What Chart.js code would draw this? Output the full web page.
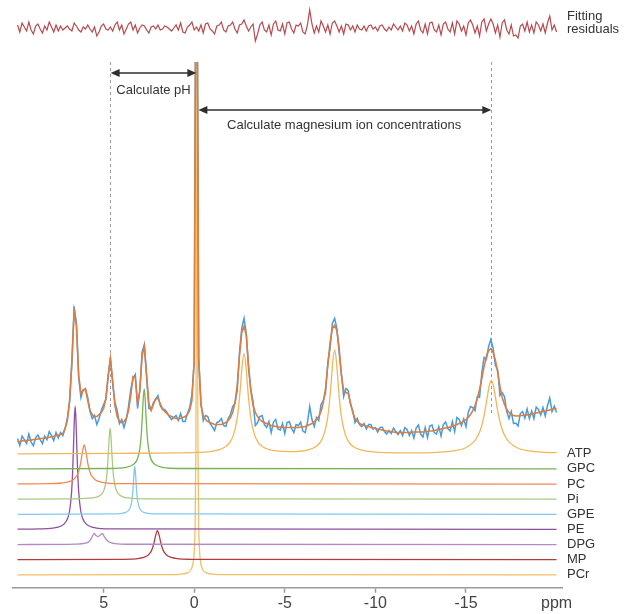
<!DOCTYPE html>
<html>
<head>
<meta charset="utf-8">
<script src="https://cdn.jsdelivr.net/npm/chart.js@4.4.1/dist/chart.umd.min.js"></script>
<style>
  html, body { margin: 0; padding: 0; background: #fff; }
  .layer { position: absolute; left: 0; top: 0; }
</style>
</head>
<body>
<canvas id="main" class="layer" width="632" height="614"></canvas>
<canvas id="resid" class="layer" width="632" height="56"></canvas>
<script>
// sampling of the measured spectrum
const shiftStart = 9.75; // ppm of first sample
const shiftStep = 0.125; // ppm between samples

// fitted spectrum (a.u.), one value per sample
const fitted = [
  6, 6, 6.5, 7, 7, 7.5, 7.5, 8, 8, 8.5,
  9, 9, 9.5, 10, 10, 11, 11, 12, 12.5, 13,
  14, 19, 27, 47, 87, 136, 122, 72, 54, 57,
  59, 47, 37, 33, 31, 31, 33, 35, 39, 49,
  72, 89, 67, 42, 31, 26, 25, 26, 29, 37,
  52, 71, 70, 44, 57, 92, 101, 72, 44, 37,
  43, 49, 49, 44, 39, 36, 34, 32, 31, 30,
  29, 29, 29, 30, 31, 33, 37, 47, 87, 640,
  90, 42, 32, 28, 26, 25, 24, 23, 23, 23,
  23, 24, 25, 27, 30, 35, 45, 62, 92, 115,
  121, 112, 82, 57, 42, 35, 31, 28, 26, 25,
  24, 23, 22, 21.5, 21, 20.5, 20.5, 20, 20, 20,
  20, 20, 20, 20, 20, 20.5, 20.5, 21, 22, 23,
  24, 26, 28, 31, 36, 45, 59, 82, 105, 119,
  122, 117, 99, 72, 57, 55, 54, 45, 35, 29,
  26, 24, 23, 22, 21.5, 21, 20, 19.5, 19, 18.5,
  18, 17.5, 17, 16.5, 16, 16, 15.5, 15, 15, 15,
  15, 15, 15, 15, 15, 15.5, 15.5, 15.5, 15.5, 15.5,
  16, 16, 16.5, 16.5, 17, 17.5, 18, 18.5, 19, 19.5,
  20, 20.5, 21, 22, 23, 24, 25, 26.5, 28, 30,
  33, 37, 42, 49, 58, 69, 81, 91, 97, 99,
  95, 87, 75, 61, 50, 43, 38, 35, 33, 32,
  31.5, 31.5, 32, 32, 32.5, 32.5, 33, 33.5, 34, 34.5,
  35, 35.5, 36, 36.5, 37, 37.5, 38, 38.5, 39
];

// fitting residuals (a.u.), measured = fitted + residual
const residuals = [
  3, -4, 5, 1, -3, 6, -2, -6, 2, 4,
  -1, -5, 2, -2, 6, 1, -4, 3, -3, 2,
  -2, 0, 2, -1, -3, 5, 2, -2, -4, 1,
  -1, 3, -1, -4, 1, -8, -4, 2, 4, -1,
  -2, 1, -3, 3, 6, -2, 3, -6, -1, 4,
  6, -2, 3, -5, 0, 3, 2, -2, -5, 1,
  2, -1, 3, -2, -1, 2, 1, -1, -3, 0,
  3, -2, 5, -4, -5, 1, 3, 6, -2, 1,
  -3, 3, -5, 4, 5, -1, -3, -6, 2, 3,
  6, -2, -4, 2, 3, 6, -1, -5, 3, 4,
  8, 2, -3, 1, 4, -13, -6, 3, 6, -2,
  -4, 3, -7, 4, 7, -2, -3, 4, -6, 5,
  6, -1, -5, 3, 2, 5, -4, -6, 3, 18,
  4, -5, 2, -4, 7, 2, -4, 3, -6, 5,
  7, 2, -4, 2, -6, 4, 3, -2, 2, -4,
  3, -1, -2, 2, -3, 2, 3, -1, 1, -3,
  2, 3, -1, -3, 1, -2, 4, 1, -2, 2,
  -3, 5, 3, -3, 2, -6, 4, 7, -2, -5,
  4, -6, 5, 6, -2, -4, 3, -7, 4, 6,
  -1, -4, 5, -6, 7, 4, -3, 2, -7, 5,
  8, 3, -5, 2, -8, 6, 9, -3, 4, 9,
  4, -5, 3, -9, 5, 8, -2, -6, 3, -8,
  -7, -10, 2, 4, -3, 6, -4, 3, -5, 6,
  3, -3, 4, -5, 5, 12, -2, 3, -4
];

// fitted components, [ppm, intensity]
const atp = [
  [9.75, 0], [4, 0.5], [1, 0.9], [-0.75, 1.9], [-1.25, 3.4], [-1.75, 7.3], [-1.95, 10.9],
  [-2.15, 17.9], [-2.35, 32.9], [-2.45, 46.6], [-2.55, 66.2], [-2.65, 88.7], [-2.75, 100],
  [-2.85, 88.7], [-2.95, 66.2], [-3.05, 46.6], [-3.15, 32.9], [-3.35, 17.9], [-3.55, 10.9],
  [-3.75, 7.3], [-4.25, 3.6], [-5.25, 2.2], [-6.25, 3.7], [-6.75, 7.6], [-6.95, 11.3],
  [-7.15, 18.6], [-7.35, 34.2], [-7.45, 48.5], [-7.55, 68.8], [-7.65, 92.2], [-7.75, 104],
  [-7.85, 92.2], [-7.95, 68.8], [-8.05, 48.5], [-8.15, 34.2], [-8.35, 18.6], [-8.55, 11.3],
  [-8.75, 7.6], [-9.25, 3.6], [-10.25, 1.4], [-12, 0.9], [-13.4, 1.4], [-14.4, 3.1],
  [-14.9, 5.3], [-15.4, 11.4], [-15.6, 16.3], [-15.8, 24], [-16, 38.3], [-16.1, 48.3],
  [-16.2, 59.5], [-16.3, 69], [-16.4, 73], [-16.5, 69], [-16.6, 59.5], [-16.7, 48.3],
  [-16.8, 38.3], [-17, 24], [-17.2, 16.3], [-17.4, 11.4], [-17.9, 5.3], [-18.4, 3.1],
  [-19.4, 1.4], [-20, 1.1]
];
const gpc = [
  [9.75, 0], [4.76, 0.4], [3.76, 1.6], [3.36, 4.3], [3.16, 8.8], [3.06, 14.4], [2.96, 26.3],
  [2.91, 37.4], [2.86, 53], [2.81, 71], [2.76, 80], [2.71, 71], [2.66, 53], [2.61, 37.4],
  [2.56, 26.3], [2.46, 14.4], [2.36, 8.8], [2.16, 4.3], [1.76, 1.6], [0.76, 0.4], [-20, 0]
];
const pc = [
  [9.75, 0.2], [8.07, 0.4], [7.07, 1.7], [6.67, 4.3], [6.47, 8.5], [6.37, 12.9], [6.27, 20.5],
  [6.17, 31.8], [6.07, 39], [5.97, 31.8], [5.87, 20.5], [5.77, 12.9], [5.67, 8.5],
  [5.47, 4.3], [5.07, 1.7], [4.07, 0.4], [-20, 0]
];
const pi = [
  [9.75, 0], [6.64, 0.3], [5.64, 1.2], [5.24, 3.2], [5.04, 6.7], [4.94, 11.2], [4.84, 21],
  [4.79, 30.4], [4.74, 44.6], [4.69, 61.8], [4.64, 71], [4.59, 61.8], [4.54, 44.6],
  [4.49, 30.4], [4.44, 21], [4.34, 11.2], [4.24, 6.7], [4.04, 3.2], [3.64, 1.2], [2.64, 0.3],
  [-20, 0]
];
const gpe = [
  [9.75, 0], [4.28, 0.5], [3.78, 1.85], [3.58, 4.8], [3.48, 9.6], [3.43, 14.8], [3.38, 24],
  [3.33, 38.4], [3.28, 48], [3.23, 38.4], [3.18, 24], [3.13, 14.8], [3.08, 9.6], [2.98, 4.8],
  [2.78, 1.85], [2.28, 0.5], [-20, 0]
];
const pe = [
  [9.75, 0.2], [8.57, 0.5], [7.57, 2.1], [7.17, 5.5], [6.97, 11.7], [6.87, 19.4], [6.77, 36.5],
  [6.72, 52.7], [6.67, 77.4], [6.62, 107], [6.57, 123], [6.52, 107], [6.47, 77.4],
  [6.42, 52.7], [6.37, 36.5], [6.27, 19.4], [6.17, 11.7], [5.97, 5.5], [5.57, 2.1],
  [4.57, 0.5], [-20, 0]
];
const dpg = [
  [9.75, 0], [6.5, 0.4], [6.0, 1.3], [5.8, 3], [5.68, 6], [5.6, 9], [5.52, 11], [5.42, 9],
  [5.3, 8], [5.18, 9.5], [5.07, 11], [4.98, 8.5], [4.85, 5], [4.7, 2.5], [4.4, 1], [3.5, 0.3],
  [-20, 0]
];
const mp = [
  [9.75, 0], [4.03, 0.35], [3.03, 1.3], [2.63, 3.4], [2.43, 6.7], [2.33, 10.1], [2.23, 15.9],
  [2.13, 24], [2.03, 29], [1.93, 24], [1.83, 15.9], [1.73, 10.1], [1.63, 6.7], [1.43, 3.4],
  [1.03, 1.3], [0.03, 0.35], [-20, 0]
];
const pcr = [
  [9.75, 0], [1.85, 0.1], [0.85, 0.5], [0.35, 2.2], [0.15, 5.9], [0.05, 13.2], [0, 23],
  [-0.05, 49.5], [-0.09, 120], [-0.11, 216], [-0.13, 415], [-0.15, 600], [-0.17, 415],
  [-0.19, 216], [-0.21, 120], [-0.25, 49.5], [-0.3, 23], [-0.35, 13.2], [-0.45, 5.9],
  [-0.65, 2.2], [-1.15, 0.5], [-2.15, 0.1], [-20, 0]
];

const componentNames = ["ATP", "GPC", "PC", "Pi", "GPE", "PE", "DPG", "MP", "PCr"];
const shiftTicks = [5, 0, -5, -10, -15, -20];

// peaks used for the arrows
const piShift = 4.64;
const pcrShift = -0.15;
const betaAtpShift = -16.4;

// ---- layout / styling ----
const components = [atp, gpc, pc, pi, gpe, pe, dpg, mp, pcr];
const componentColors = ["#f2b65a", "#79b353", "#ea8a55", "#a8cb80", "#82c9ee",
  "#8e519f", "#b48ac6", "#b53a3e", "#f3bf66"];
const laneGap = 15.1;
const lowestLane = 13;
const spectrumOffset = 140;
const laneOffset = (k) => lowestLane + (components.length - 1 - k) * laneGap;
const font = "'Liberation Sans', Arial, sans-serif";

const shifts = fitted.map((_, i) => shiftStart - i * shiftStep);
const xRange = { type: "linear", reverse: true, min: -20.3, max: 10 };

const datasets = [
  {
    data: fitted.map((v, i) => ({ x: shifts[i], y: v + spectrumOffset })),
    borderColor: "#dc7d43", borderWidth: 1.6, order: 0
  },
  {
    data: fitted.map((v, i) => ({ x: shifts[i], y: v + residuals[i] + spectrumOffset })),
    borderColor: "#4b9bd9", borderWidth: 1.5, order: 1
  }
];
components.forEach((comp, k) => {
  datasets.push({
    data: comp.map(([s, v]) => ({ x: s, y: v + laneOffset(k) })),
    borderColor: componentColors[k], borderWidth: 1.3,
    cubicInterpolationMode: "monotone", order: 2 + k
  });
});

function drawArrow(ctx, x1, x2, y) {
  const head = 9, half = 4;
  ctx.beginPath();
  ctx.moveTo(x1 + head - 1, y);
  ctx.lineTo(x2 - head + 1, y);
  ctx.stroke();
  ctx.beginPath();
  ctx.moveTo(x1, y); ctx.lineTo(x1 + head, y - half); ctx.lineTo(x1 + head, y + half);
  ctx.closePath(); ctx.fill();
  ctx.beginPath();
  ctx.moveTo(x2, y); ctx.lineTo(x2 - head, y - half); ctx.lineTo(x2 - head, y + half);
  ctx.closePath(); ctx.fill();
}

const annotations = {
  id: "annotations",
  beforeDatasetsDraw(chart) {
    const { ctx, chartArea, scales: { x, y } } = chart;
    ctx.save();
    ctx.strokeStyle = "#9b9b9b";
    ctx.lineWidth = 1;
    ctx.setLineDash([3, 3]);
    [piShift, betaAtpShift].forEach((s) => {
      const px = Math.round(x.getPixelForValue(s)) + 0.5;
      ctx.beginPath();
      ctx.moveTo(px, chartArea.top);
      ctx.lineTo(px, y.getPixelForValue(spectrumOffset + 32));
      ctx.stroke();
    });
    ctx.restore();
  },
  afterDatasetsDraw(chart) {
    const { ctx, chartArea, scales: { x, y } } = chart;
    const xPi = x.getPixelForValue(piShift);
    const xPcr = x.getPixelForValue(pcrShift);
    const xBeta = x.getPixelForValue(betaAtpShift);
    ctx.save();
    ctx.strokeStyle = "#2f2f2f";
    ctx.fillStyle = "#2f2f2f";
    ctx.lineWidth = 1.3;
    drawArrow(ctx, xPi + 0.5, xPcr - 0.5, chartArea.top + 11);
    drawArrow(ctx, xPcr + 1.5, xBeta, chartArea.top + 48);

    ctx.fillStyle = "#333";
    ctx.font = "13px " + font;
    ctx.textAlign = "center";
    ctx.textBaseline = "middle";
    ctx.fillText("Calculate pH", (xPi + xPcr) / 2, chartArea.top + 28);
    ctx.fillText("Calculate magnesium ion concentrations", (xPcr + xBeta) / 2, chartArea.top + 63);

    ctx.textAlign = "left";
    componentNames.forEach((name, k) => {
      ctx.fillText(name, chartArea.right + 5, y.getPixelForValue(laneOffset(k)));
    });
    ctx.restore();
  }
};

new Chart(document.getElementById("main"), {
  type: "line",
  data: { datasets },
  options: {
    responsive: false,
    animation: false,
    elements: { point: { radius: 0 } },
    layout: { padding: { left: 13, right: 70, top: 62, bottom: 0 } },
    plugins: { legend: { display: false }, tooltip: { enabled: false } },
    scales: {
      x: {
        ...xRange,
        afterBuildTicks: (axis) => { axis.ticks = shiftTicks.map((v) => ({ value: v })); },
        ticks: {
          padding: 1,
          color: "#444",
          font: { size: 16, family: font },
          maxRotation: 0,
          callback: (v) => (v === -20 ? "ppm" : String(v))
        },
        grid: {
          drawOnChartArea: false,
          tickLength: 5,
          tickWidth: 1.5,
          tickColor: (c) => (c.tick && c.tick.value === -20 ? "rgba(0,0,0,0)" : "#9a9a9a")
        },
        border: { display: true, color: "#9a9a9a", width: 1.5 }
      },
      y: { display: false, min: 0, max: 525 }
    }
  },
  plugins: [annotations]
});

// residual strip on top
const residLabel = {
  id: "residLabel",
  afterDraw(chart) {
    const { ctx, chartArea } = chart;
    ctx.save();
    ctx.fillStyle = "#333";
    ctx.font = "13px " + font;
    ctx.textAlign = "left";
    ctx.textBaseline = "middle";
    ctx.fillText("Fitting", chartArea.right + 5, 16);
    ctx.fillText("residuals", chartArea.right + 5, 29);
    ctx.restore();
  }
};

new Chart(document.getElementById("resid"), {
  type: "line",
  data: {
    datasets: [{
      data: residuals.map((v, i) => ({ x: shifts[i], y: v })),
      borderColor: "#b8494e",
      borderWidth: 1.2
    }]
  },
  options: {
    responsive: false,
    animation: false,
    elements: { point: { radius: 0 } },
    layout: { padding: { left: 13, right: 70, top: 0, bottom: 0 } },
    plugins: { legend: { display: false }, tooltip: { enabled: false } },
    scales: {
      x: { ...xRange, display: false },
      y: { display: false, min: -28, max: 28 }
    }
  },
  plugins: [residLabel]
});
</script>
</body>
</html>
